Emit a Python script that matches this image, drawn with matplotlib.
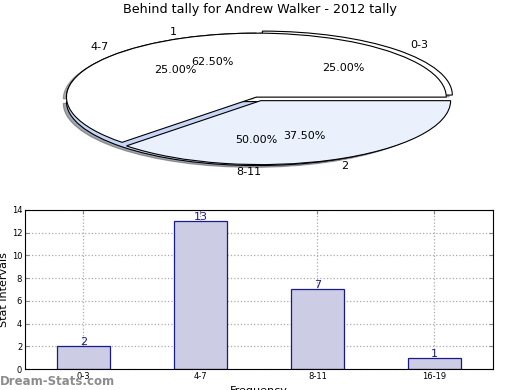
"""
Behind tally chart: overlaid pies on top, frequency bars below.
"""

import matplotlib
matplotlib.use('Agg')
import matplotlib.pyplot as plt

# pie data
range_labels = ['0-3', '4-7', '8-11']
range_shares = [25.0, 25.0, 50.0]
count_labels = ['1', '2']
count_shares = [62.5, 37.5]

# bar data
bar_labels = ['0-3', '4-7', '8-11', '16-19']
bar_values = [2, 13, 7, 1]

title = 'Behind tally for Andrew Walker - 2012 tally'

fig = plt.figure(figsize=(5.2, 3.9), dpi=100)

# Top: two pies drawn over each other and squashed flat
ax_pie = fig.add_axes([0.0365, 0.546, 0.913, 0.410])
wedges, texts, pcts = ax_pie.pie(
    range_shares, labels=range_labels, autopct='%1.2f%%',
    colors=['white', 'white', '#c6d6f6'], explode=[0.045, 0, 0.07],
    shadow={'ox': -0.012, 'oy': -0.02, 'shade': 0.65}, startangle=0,
    textprops={'fontsize': 8},
    wedgeprops={'edgecolor': 'black', 'linewidth': 0.8})
# old-style alignment for the bottom label
texts[2].set_horizontalalignment('center')
texts[2].set_x(texts[2].get_position()[0] - 0.04)
ax_pie.pie(count_shares, labels=count_labels, autopct='%1.2f%%',
           colors=['white', '#eaf0fc'], explode=[0, 0.06],
           startangle=0, textprops={'fontsize': 8},
           wedgeprops={'edgecolor': 'black', 'linewidth': 0.8})
ax_pie.set_aspect('auto')
ax_pie.set_xlim(-1.25, 1.25)
ax_pie.set_ylim(-1.25, 1.25)
ax_pie.axis('off')
fig.text(0.5, 0.975, title, ha='center', va='center', fontsize=9.2)

# Bottom: bar chart
ax_bar = fig.add_axes([0.048, 0.0538, 0.9, 0.408])
positions = [i + 0.5 for i in range(len(bar_values))]
ax_bar.bar(positions, bar_values, width=0.45, color='#ccccE4',
           edgecolor='#1a1a8c', linewidth=0.9, zorder=2)
for x, v in zip(positions, bar_values):
    ax_bar.text(x, v + 0.35, str(v), ha='center', va='center',
                fontsize=8, color='#1a1a8c', zorder=3)
ax_bar.set_xlim(0, len(bar_values))
ax_bar.set_ylim(0, 14)
ax_bar.set_yticks(range(0, 15, 2))
ax_bar.set_xticks(positions)
ax_bar.set_xticklabels(bar_labels)
ax_bar.tick_params(direction='in', length=3, labelsize=6, pad=2,
                   top=True, right=True, color='#888888')
ax_bar.grid(True, linestyle=':', color='#aaaaaa', linewidth=0.9, zorder=0)
ax_bar.set_axisbelow(True)
ax_bar.set_ylabel('Stat Intervals', fontsize=8, labelpad=2)
ax_bar.set_xlabel('Frequency', fontsize=8, labelpad=4)

# watermark
fig.text(0.0, 0.023, 'Dream-Stats.com', ha='left', va='center',
         fontsize=8.5, color='#8c8c8c', fontweight='bold')

fig.savefig('out.png', dpi=100)
